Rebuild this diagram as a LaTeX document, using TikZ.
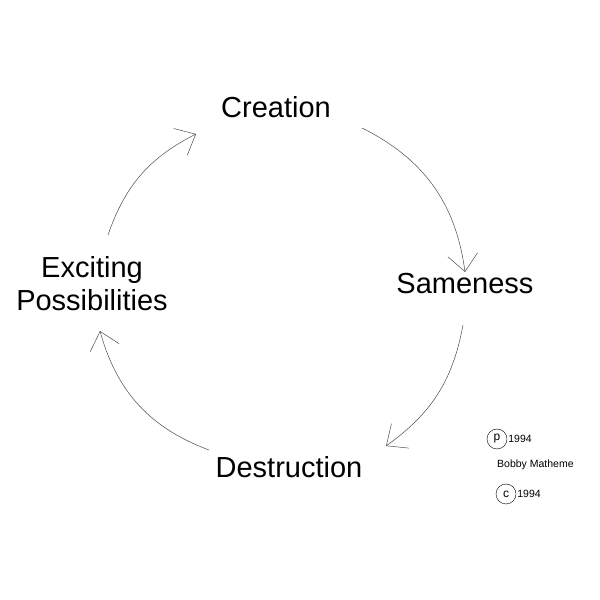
\documentclass[tikz,border=0pt]{standalone}
\usepackage{fontspec}
\setmainfont{Liberation Sans}
\usetikzlibrary{arrows.meta}
\usetikzlibrary{positioning}

\begin{document}
\begin{tikzpicture}[x=1pt,y=1pt,->,>={Straight Barb[length=17pt,width=30pt]}]
		\tikzset{stage/.style = {anchor=base, inner sep=0pt, font=\fontsize{29}{33}\selectfont, align=center}}
		\tikzset{cycle/.style = {line width=0.5pt, draw=black!70}}
		\tikzset{mark circle/.style = {shape=circle, draw, thin, minimum size=20pt, inner sep=0pt, font=\fontsize{12}{12}\selectfont}}
		\tikzset{small/.style = {anchor=base west, inner sep=0pt, font=\fontsize{10.5}{12}\selectfont}}
		\useasboundingbox (0,0) rectangle (600,600);
		
		\node[stage] (CREATION) at (276,482) {Creation};
		\node[stage] (SAMENESS) at (465,306) {Sameness};
		\node[stage] (DESTRUCTION) at (289,122) {Destruction};
		\node[stage, anchor=center] (POSSIB) at (92,316) {Exciting\\Possibilities};
		
		\coordinate (s1) at (108,365); \coordinate (e1) at (196,466);
		\coordinate (s2) at (362,472); \coordinate (e2) at (465,328);
		\coordinate (s3) at (463,275); \coordinate (e3) at (386,154);
		\coordinate (s4) at (209,150); \coordinate (e4) at (100,269);
		
		\draw[cycle] (s1) to[bend left=22] (e1);
		\draw[cycle] (s2) to[bend left=28] (e2);
		\draw[cycle] (s3) to[bend left=22] (e3);
		\draw[cycle] (s4) to[bend left=27] (e4);
		
		\node[mark circle] (PCIRC) at (497,161) {p};
		\node[small, right=1pt of PCIRC.east, anchor=west] (PYEAR) {1994};
		\node[small] (AUTHOR) at (497,132) {Bobby Matheme};
		\node[mark circle] (CCIRC) at (506,106) {c};
		\node[small, right=1pt of CCIRC.east, anchor=west] (CYEAR) {1994};
		
\end{tikzpicture}
\end{document}
